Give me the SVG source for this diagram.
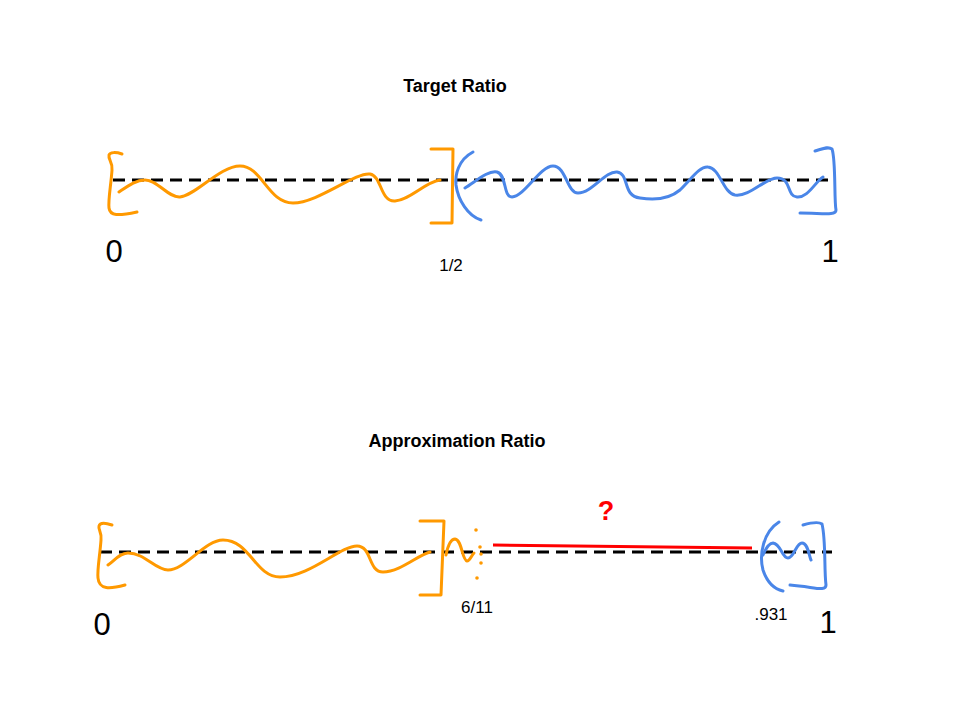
<svg xmlns="http://www.w3.org/2000/svg" width="960" height="720" viewBox="0 0 960 720">
<style>
.t{font-family:"Liberation Sans",Arial,sans-serif;fill:#000}
.title{font-size:18px;font-weight:bold;text-anchor:middle}
.big{font-size:31px;text-anchor:middle}
.small{font-size:17px;text-anchor:middle}
.q{font-size:27px;font-weight:bold;text-anchor:middle;fill:#ff0000}
.dash{stroke:#000;stroke-width:3;stroke-dasharray:12,7;fill:none}
.or{stroke:#ff9900;stroke-width:3;fill:none;stroke-linecap:round;stroke-linejoin:round}
.bl{stroke:#4a86e8;stroke-width:3;fill:none;stroke-linecap:round;stroke-linejoin:round}
</style>
<rect width="960" height="720" fill="#fff"/>
<g id="top">
<text class="t title" x="455" y="92">Target Ratio</text>
<g id="top-line"><line class="dash" x1="113" y1="180" x2="832" y2="180"/></g>
<g id="top-orange">
<path class="or" d="M122,154 C116,152 110,152 109,155 C108,160 113,162 112,170 C111,185 108,200 109,208 C110,216 118,216 137,212"/>
<path class="or" d="M119,192 C128,186 136,180 145,180 C158,180 168,198 180,197 C195,196 220,166 240,166 C262,166 268,203 293,203 C318,203 355,172 370,174 C382,176 380,202 395,201 C410,200 425,182 440,180"/>
<path class="or" d="M431,149 L453,149 L452,223 L431,223"/>
</g>
<g id="top-blue">
<path class="bl" d="M473,152 C458,160 455,175 456,185 C458,200 468,216 481,220"/>
<path class="bl" d="M465,188 C475,182 488,170 497,172 C507,175 503,197 512,197 C525,196 540,166 553,166 C566,166 567,193 578,193 C592,193 605,171 617,172 C630,174 622,196 640,198 C652,200 668,200 680,190 C692,178 700,166 708,167 C720,168 723,193 735,195 C750,197 765,178 777,178 C792,178 786,196 797,197 C808,198 815,182 823,177"/>
<path class="bl" d="M815,151 C822,149 828,146 832,149 C836,160 834,200 836,210 C836,216 822,213 800,213"/>
</g>
<text class="t big" x="114" y="262">0</text>
<text class="t small" x="451" y="271">1/2</text>
<text class="t big" x="830" y="262">1</text>
</g>
<g id="bottom">
<text class="t title" x="457" y="447">Approximation Ratio</text>
<g id="bottom-line"><line class="dash" x1="100" y1="552" x2="832" y2="552"/></g>
<g id="bottom-orange">
<path class="or" d="M112,525 C106,523 100,522 99,526 C98,530 102,532 101,540 C100,555 97,570 98,578 C99,590 110,589 125,585"/>
<path class="or" d="M108,565 C115,560 120,553 128,553 C145,553 155,570 168,570 C185,570 205,540 223,540 C250,540 255,577 280,577 C310,577 340,546 357,546 C372,546 368,572 383,572 C400,572 418,555 430,552"/>
<path class="or" d="M420,521 L444,521 L441,595 L420,595"/>
<path class="or" d="M446,555 C448,545 451,539 455,539 C462,540 462,560 467,561 C470,561 471,556 474,553"/>
<g fill="#ff9900">
<circle cx="476" cy="530" r="1.8"/>
<circle cx="480" cy="547" r="1.8"/>
<circle cx="481" cy="554" r="1.8"/>
<circle cx="481" cy="563" r="1.8"/>
<circle cx="477" cy="578" r="1.8"/>
</g>
</g>
<g id="red-gap">
<line x1="493" y1="545" x2="752" y2="548" stroke="#ff0000" stroke-width="3"/>
<text class="t q" x="606" y="520">?</text>
</g>
<g id="bottom-blue">
<path class="bl" d="M779,522 C763,532 759,555 763,570 C767,582 774,589 783,591"/>
<path class="bl" d="M763,555 C766,548 769,543 773,543 C781,544 782,558 788,558 C794,558 796,543 802,543 C808,543 809,556 811,560"/>
<path class="bl" d="M803,525 C810,523 818,521 822,524 C826,540 824,570 826,585 C826,592 815,587 790,585"/>
</g>
<text class="t big" x="102" y="635">0</text>
<text class="t small" x="477" y="613">6/11</text>
<text class="t small" x="771" y="620">.931</text>
<text class="t big" x="828" y="633">1</text>
</g>
</svg>
